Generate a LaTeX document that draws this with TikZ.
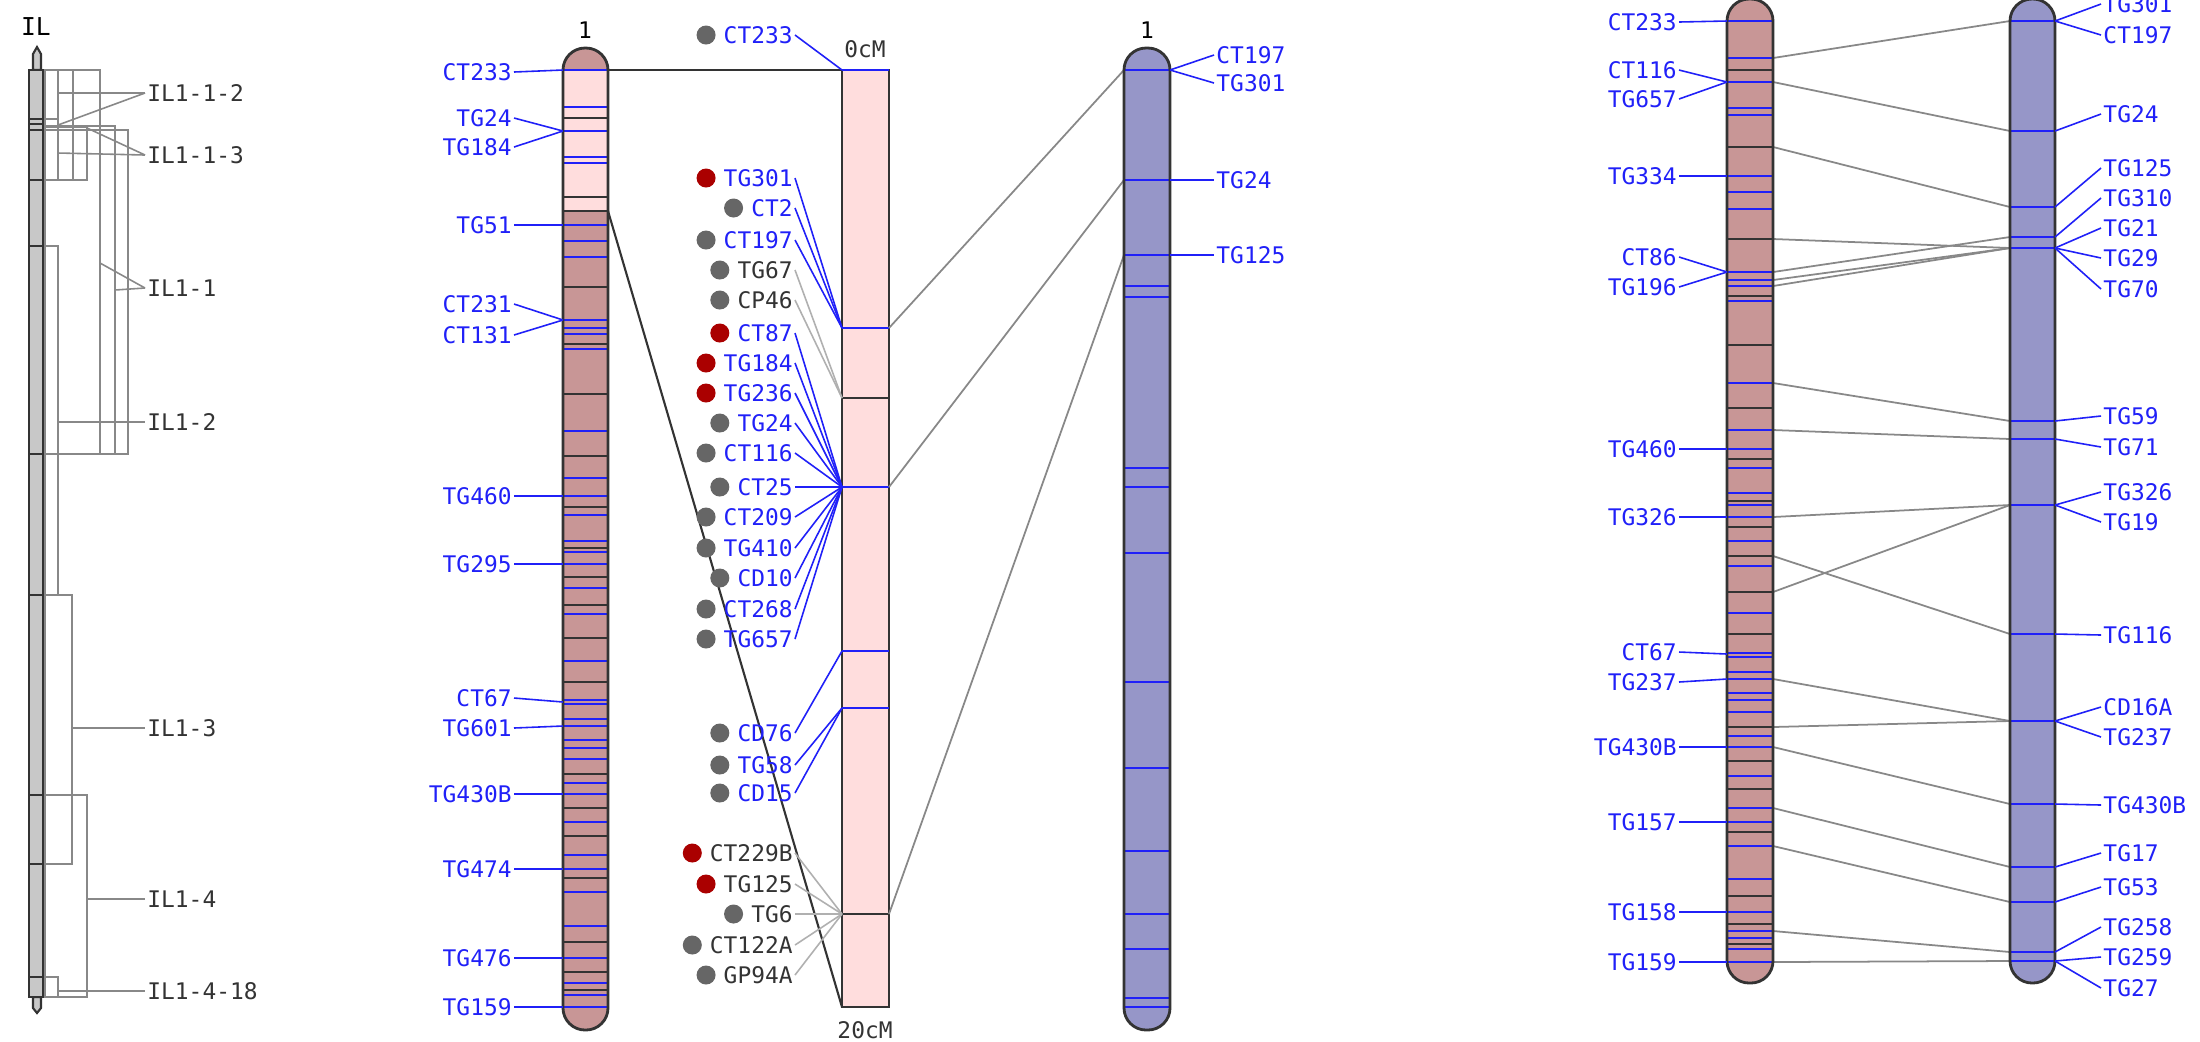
\documentclass[tikz,border=0pt]{standalone}
\usepackage{fontspec}
\setmonofont{DejaVu Sans Mono}
\usetikzlibrary{positioning}
\definecolor{Rose}{HTML}{C89696}
\definecolor{Blush}{HTML}{FFDDDD}
\definecolor{Lilac}{HTML}{9696C8}
\definecolor{Shade}{HTML}{C8C8C8}
\definecolor{Mark}{HTML}{2020F8}
\definecolor{Ink}{HTML}{333333}
\definecolor{Link}{HTML}{888888}
\definecolor{Pale}{HTML}{B0B0B0}
\definecolor{Dot}{HTML}{666666}
\definecolor{Hit}{HTML}{AA0000}
\tikzset{
 tag/.style={font=\ttfamily\fontsize{6.5}{7}\selectfont,text=Mark,inner sep=0.5pt},
 tagk/.style={tag,text=Ink},
 band/.style={draw=Mark,line width=0.6pt},
 seam/.style={draw=Ink,line width=0.6pt},
 lead/.style={draw=Mark,line width=0.45pt},
 link/.style={draw=Link,line width=0.5pt},
 rim/.style={draw=Ink,line width=0.8pt},
 ilbox/.style={draw=Link,line width=0.45pt},
 dot/.style={circle,inner sep=0pt,minimum size=0.19cm,fill=Dot}
}
\begin{document}
\begin{tikzpicture}[x=0.01cm,y=-0.01cm]
\fill[white] (0,0) rectangle (2200,1041);
\useasboundingbox (0,0) rectangle (2200,1041);
% introgression lines
\node[tagk,text=black,font=\ttfamily\fontsize{7}{8}\selectfont] (il) at (36,27) {IL};
\filldraw[fill=Shade,draw=Ink,line width=0.6pt] (33,70)--(33,54)--(37,47)--(41,54)--(41,70)--cycle;
\filldraw[fill=Shade,draw=Ink,line width=0.6pt] (33,997)--(33,1008)--(37,1013)--(41,1008)--(41,997)--cycle;
\filldraw[fill=Shade,draw=Ink,line width=0.8pt] (29,70) rectangle (43,997);
\foreach \y in {119,124,130,180,246,454,595,795,864,977} \draw[seam] (29,\y) -- (43,\y);
\foreach \a/\b/\r in {70/454/100,126/454/115,130/454/128,70/180/58,70/180/73,127/180/87,246/595/58,595/864/72,795/997/87,977/997/58}
 \draw[ilbox] (45,\a) rectangle (\r,\b);
\draw[ilbox] (45,119) -- (58,119);
\foreach \n/\y in {IL1-1-2/93,IL1-1-3/155,IL1-1/288,IL1-2/422,IL1-3/728,IL1-4/899,IL1-4-18/991}
 \node[tagk,anchor=west] (il-\n) at (145,\y) {\n};
\foreach \n/\x/\y in {IL1-1-2/58/93,IL1-1-2/58/125,IL1-1-3/58/153,IL1-1-3/87/128,IL1-1/100/263,IL1-1/115/290,IL1-2/58/422,IL1-3/72/728,IL1-4/87/899,IL1-4-18/58/991}
 \draw[ilbox] (\x,\y) -- (il-\n.west);

% chromosome 1, first map
\node[tagk,text=black] (L) at (585,30) {1};
\fill[Rose,rounded corners=0.22cm] (563,48) rectangle (608,1030);
\fill[Blush] (563,70) rectangle (608,211);
\foreach \y in {118,197,211,287,344,394,456,507,548,577,605,638,682,774,808,836,878,942,972,990}
 \draw[seam] (563,\y) -- (608,\y);
\foreach \y in {70,107,131,157,163,225,241,257,320,328,334,349,431,478,496,515,541,552,564,588,614,661,700,704,719,726,740,748,759,783,794,822,855,869,892,926,958,983,995,1007}
 \draw[band] (563,\y) -- (608,\y);
\draw[rim,rounded corners=0.22cm] (563,48) rectangle (608,1030);
\foreach \n/\t/\b in {CT233/72/70,TG24/118/131,TG184/147/131,TG51/225/225,CT231/304/320,CT131/335/320,TG460/496/496,TG295/564/564,CT67/698/702,TG601/728/726,TG430B/794/794,TG474/869/869,TG476/958/958,TG159/1007/1007} {
 \node[tag,anchor=east] (L-\n) at (514,\t) {\n};
 \draw[lead] (L-\n.east) -- (563,\b);
}

% interval 0-20 cM
\draw[seam] (608,70) -- (842,70);
\draw[seam] (608,211) -- (842,1007);
\filldraw[fill=Blush,draw=Ink,line width=0.8pt] (842,70) rectangle (889,1007);
\foreach \y in {398,914} \draw[seam] (842,\y) -- (889,\y);
\foreach \y in {70,328,487,651,708} \draw[band] (842,\y) -- (889,\y);
\node[tagk] (top) at (865,49) {0cM};
\node[tagk] (bot) at (865,1030) {20cM};
\foreach \n/\t/\b/\f/\c/\e in {CT233/35/70/Dot/Mark/Mark,TG301/178/328/Hit/Mark/Mark,CT2/208/328/Dot/Mark/Mark,CT197/240/328/Dot/Mark/Mark,TG67/270/398/Dot/Ink/Pale,CP46/300/398/Dot/Ink/Pale,CT87/333/487/Hit/Mark/Mark,TG184/363/487/Hit/Mark/Mark,TG236/393/487/Hit/Mark/Mark,TG24/423/487/Dot/Mark/Mark,CT116/453/487/Dot/Mark/Mark,CT25/487/487/Dot/Mark/Mark,CT209/517/487/Dot/Mark/Mark,TG410/548/487/Dot/Mark/Mark,CD10/578/487/Dot/Mark/Mark,CT268/609/487/Dot/Mark/Mark,TG657/639/487/Dot/Mark/Mark,CD76/733/651/Dot/Mark/Mark,TG58/765/708/Dot/Mark/Mark,CD15/793/708/Dot/Mark/Mark,CT229B/853/914/Hit/Ink/Pale,TG125/884/914/Hit/Ink/Pale,TG6/914/914/Dot/Ink/Pale,CT122A/945/914/Dot/Ink/Pale,GP94A/975/914/Dot/Ink/Pale} {
 \node[tag,text=\c,anchor=east] (M-\n) at (795,\t) {\n};
 \node[dot,fill=\f,left=0.05cm of M-\n] (D-\n) {};
 \draw[lead,draw=\e] (M-\n.east) -- (842,\b);
}

% chromosome 1, second map
\foreach \a/\b in {328/70,487/180,914/255} \draw[link] (889,\a) -- (1124,\b);
\node[tagk,text=black] (B) at (1147,30) {1};
\fill[Lilac,rounded corners=0.22cm] (1124,48) rectangle (1170,1030);
\foreach \y in {70,180,255,286,297,468,487,553,682,768,851,914,949,998,1007}
 \draw[band] (1124,\y) -- (1170,\y);
\draw[rim,rounded corners=0.22cm] (1124,48) rectangle (1170,1030);
\foreach \n/\t/\b in {CT197/55/70,TG301/83/70,TG24/180/180,TG125/255/255} {
 \node[tag,anchor=west] (B-\n) at (1214,\t) {\n};
 \draw[lead] (1170,\b) -- (B-\n.west);
}

% comparison pair
\foreach \a/\b in {58/21,82/131,147/207,239/248,272/237,280/248,286/248,383/421,430/439,517/505,556/634,592/505,679/721,727/721,747/804,808/867,846/902,931/952,962/961}
 \draw[link] (1773,\a) -- (2010,\b);
\fill[Rose,rounded corners=0.22cm] (1727,-1) rectangle (1773,983);
\foreach \y in {70,147,239,296,345,408,459,501,527,556,592,634,727,761,789,832,896,924,944}
 \draw[seam] (1727,\y) -- (1773,\y);
\foreach \y in {21,58,82,108,115,176,192,209,272,280,286,301,383,430,449,468,493,505,517,541,566,613,653,657,672,679,693,700,712,736,747,776,808,822,846,879,912,931,938,949,962}
 \draw[band] (1727,\y) -- (1773,\y);
\draw[rim,rounded corners=0.22cm] (1727,-1) rectangle (1773,983);
\foreach \n/\t/\b in {CT233/22/21,CT116/70/82,TG657/99/82,TG334/176/176,CT86/257/272,TG196/287/272,TG460/449/449,TG326/517/517,CT67/652/654,TG237/682/679,TG430B/747/747,TG157/822/822,TG158/912/912,TG159/962/962} {
 \node[tag,anchor=east] (P-\n) at (1679,\t) {\n};
 \draw[lead] (P-\n.east) -- (1727,\b);
}
\fill[Lilac,rounded corners=0.22cm] (2010,-1) rectangle (2055,983);
\foreach \y in {21,131,207,237,248,421,439,505,634,721,804,867,902,952,961}
 \draw[band] (2010,\y) -- (2055,\y);
\draw[rim,rounded corners=0.22cm] (2010,-1) rectangle (2055,983);
\foreach \n/\t/\b in {TG301/4/21,CT197/35/21,TG24/114/131,TG125/168/207,TG310/198/237,TG21/228/248,TG29/258/248,TG70/289/248,TG59/416/421,TG71/447/439,TG326/492/505,TG19/522/505,TG116/635/634,CD16A/707/721,TG237/737/721,TG430B/805/804,TG17/853/867,TG53/887/902,TG258/927/952,TG259/957/961,TG27/988/961} {
 \node[tag,anchor=west] (Q-\n) at (2101,\t) {\n};
 \draw[lead] (2055,\b) -- (Q-\n.west);
}
\end{tikzpicture}
\end{document}
